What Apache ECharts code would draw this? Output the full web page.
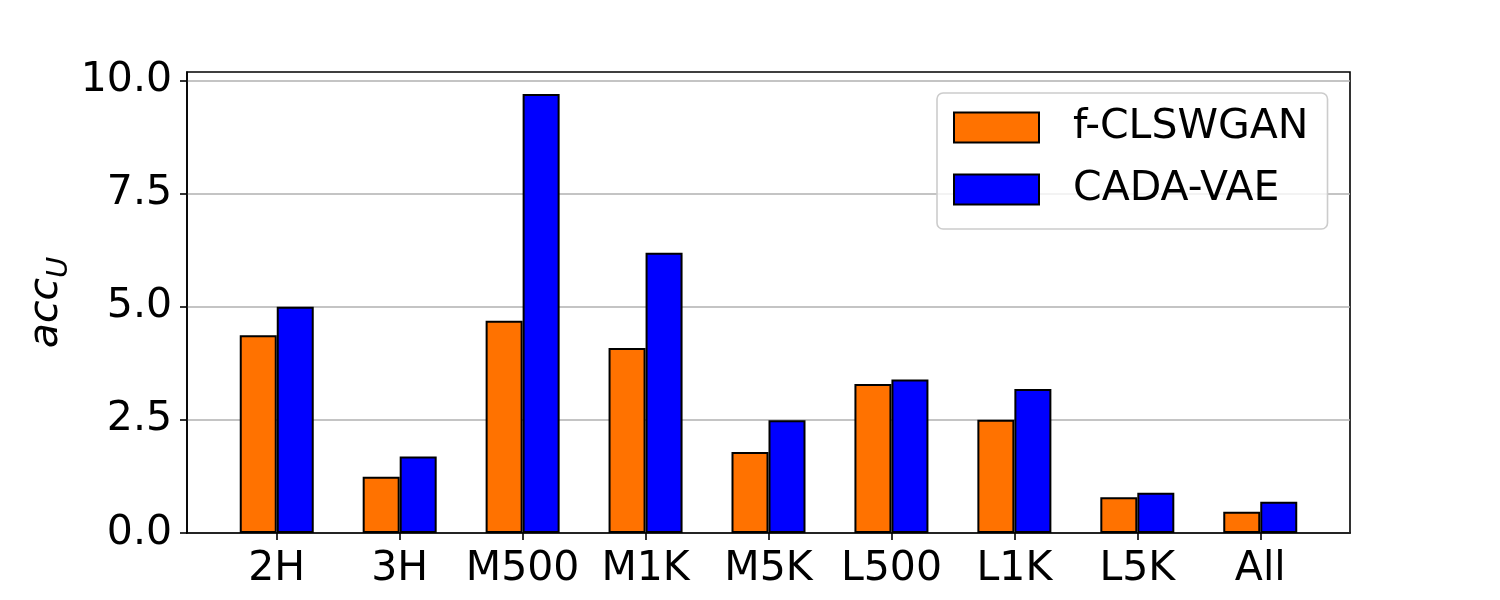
<!DOCTYPE html>
<html>
<head>
<meta charset="utf-8">
<script src="https://cdn.jsdelivr.net/npm/echarts@6/dist/echarts.min.js"></script>
<style>html,body{margin:0;padding:0;background:#fff;}#c{width:1500px;height:600px;}</style>
</head>
<body>
<div id="c"></div>
<script>
const categories = ['2H', '3H', 'M500', 'M1K', 'M5K', 'L500', 'L1K', 'L5K', 'All'];
const fclswgan = [4.37, 1.24, 4.69, 4.09, 1.79, 3.29, 2.5, 0.79, 0.47];
const cadavae = [5.0, 1.69, 9.7, 6.19, 2.49, 3.39, 3.18, 0.89, 0.69];
const yTicks = [0, 2.5, 5, 7.5, 10];
const seriesNames = ['f-CLSWGAN', 'CADA-VAE'];

const FONT = 'DejaVu Sans';
const FS = 41;
const idx = categories.map((c, i) => i);

const chart = echarts.init(document.getElementById('c'), null, {renderer: 'canvas'});
chart.setOption({
  animation: false,
  backgroundColor: '#fff',
  grid: {
    left: 187, right: 150, top: 72, bottom: 67,
    show: true, borderColor: '#000', borderWidth: 1.6, backgroundColor: 'transparent'
  },
  legend: {
    orient: 'vertical',
    left: 937, top: 93,
    padding: [14, 19, 19, 16],
    itemWidth: 85, itemHeight: 30, itemGap: 21,
    backgroundColor: 'rgba(255,255,255,0.8)',
    borderColor: '#cccccc', borderWidth: 1.6, borderRadius: 6,
    icon: 'rect',
    textStyle: {fontFamily: FONT, fontSize: FS, color: '#000', padding: [0, 0, 0, 29]},
    data: seriesNames
  },
  xAxis: {
    type: 'value',
    min: -0.73, max: 8.73,
    splitLine: {show: false},
    axisLine: {show: true, onZero: false, lineStyle: {color: '#000', width: 1.6}},
    axisTick: {show: true, customValues: idx, length: 7, lineStyle: {color: '#000', width: 1.6}},
    axisLabel: {
      customValues: idx,
      formatter: v => categories[Math.round(v)],
      fontFamily: FONT, fontSize: FS, color: '#000', margin: 16
    }
  },
  yAxis: {
    type: 'value',
    min: 0, max: 10.185,
    name: '{i|acc}{s|U}',
    nameLocation: 'middle',
    nameRotate: 90,
    nameGap: 113,
    nameMoveOverlap: false,
    nameTextStyle: {
      rich: {
        i: {fontFamily: FONT, fontStyle: 'italic', fontSize: FS, color: '#000', lineHeight: 56, verticalAlign: 'middle'},
        s: {fontFamily: FONT, fontStyle: 'italic', fontSize: 29, color: '#000', lineHeight: 29, verticalAlign: 'bottom'}
      }
    },
    axisLine: {show: true, onZero: false, lineStyle: {color: '#000', width: 1.6}},
    axisTick: {show: true, customValues: yTicks, length: 7, lineStyle: {color: '#000', width: 1.6}},
    axisLabel: {
      customValues: yTicks,
      formatter: v => v.toFixed(1),
      fontFamily: FONT, fontSize: FS, color: '#000', margin: 15
    },
    splitLine: {show: true, lineStyle: {color: '#b0b0b0', width: 1.6}}
  },
  series: [
    {
      name: seriesNames[0], type: 'bar',
      data: fclswgan.map((v, i) => [i, v]),
      barWidth: 37, barGap: '0%',
      itemStyle: {color: '#ff7200', borderColor: '#000', borderWidth: 2}
    },
    {
      name: seriesNames[1], type: 'bar',
      data: cadavae.map((v, i) => [i, v]),
      barWidth: 37, barGap: '0%',
      itemStyle: {color: '#0000ff', borderColor: '#000', borderWidth: 2}
    }
  ]
});
</script>
</body>
</html>
